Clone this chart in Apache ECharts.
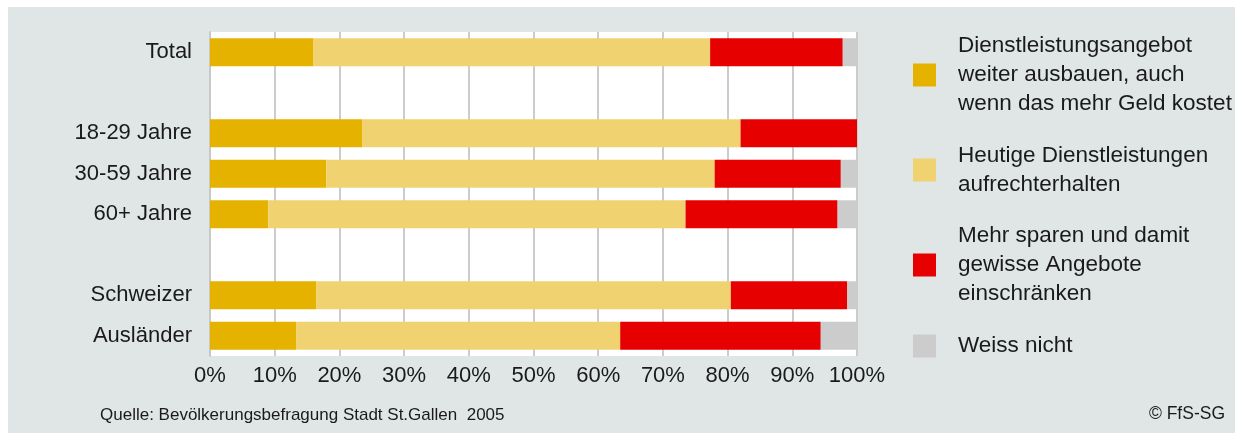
<!DOCTYPE html>
<html>
<head>
<meta charset="utf-8">
<script src="https://cdn.jsdelivr.net/npm/echarts@6/dist/echarts.min.js"></script>
<style>
html,body{margin:0;padding:0;background:#fff;}
#c{width:1235px;height:433px;}
</style>
</head>
<body>
<div id="c"></div>
<script>
const categories = ['Total', ' ', '18-29 Jahre', '30-59 Jahre', '60+ Jahre', '  ', 'Schweizer', 'Ausländer'];
const seriesNames = [
  'Dienstleistungsangebot\nweiter ausbauen, auch\nwenn das mehr Geld kostet',
  'Heutige Dienstleistungen\naufrechterhalten',
  'Mehr sparen und damit\ngewisse Angebote\neinschränken',
  'Weiss nicht'
];
const ausbauen     = [16,   null, 23.5, 18,   9,    null, 16.4, 13.3];
const erhalten     = [61.3, null, 58.5, 60,   64.5, null, 64.1, 50.1];
const sparen       = [20.5, null, 18,   19.5, 23.5, null, 18,   31];
const weissNicht   = [2.2,  null, 0,    2.5,  3,    null, 1.5,  5.6];
const xTicks = [0, 10, 20, 30, 40, 50, 60, 70, 80, 90, 100];
const colors = ['#e6b200', '#f0d370', '#e60000', '#cccccc'];
const values = [ausbauen, erhalten, sparen, weissNicht];

const chart = echarts.init(document.getElementById('c'));
const font = 'Liberation Sans, Arial, sans-serif';
const legendTops = [31.5, 141, 221.5, 331.5];
chart.setOption({
  backgroundColor: '#ffffff',
  animation: false,
  textStyle: {fontFamily: font},
  graphic: [
    {type: 'rect', left: 8, top: 7, z: -10, silent: true,
     shape: {width: 1227, height: 426}, style: {fill: '#dfe6e5'}},
    {type: 'text', left: 100, top: 407,
     style: {text: 'Quelle: Bevölkerungsbefragung Stadt St.Gallen  2005', fontSize: 17, fontFamily: font, fill: '#1a1a1a'}},
    {type: 'text', right: 10, top: 405,
     style: {text: '© FfS-SG', fontSize: 17.5, fontFamily: font, fill: '#1a1a1a'}}
  ],
  grid: {left: 210, right: 378, top: 32, bottom: 77, show: true, backgroundColor: '#ffffff', borderWidth: 0, containLabel: false},
  legend: seriesNames.map((n, i) => ({
    orient: 'vertical', left: 913, top: legendTops[i], padding: 0,
    itemWidth: 23, itemHeight: 23, icon: 'rect',
    data: [n],
    textStyle: {fontSize: 22.5, lineHeight: 29, color: '#1a1a1a', fontFamily: font, padding: [0, 0, 0, 17]},
    selectedMode: false
  })),
  xAxis: {
    type: 'value', min: 0, max: 100, interval: 10,
    axisLine: {show: false}, axisTick: {show: false},
    splitLine: {show: true, lineStyle: {color: '#cccccc', width: 2}},
    axisLabel: {formatter: v => xTicks.includes(v) ? v + '%' : '', fontSize: 22, color: '#1a1a1a', margin: 9, fontFamily: font}
  },
  yAxis: {
    type: 'category', data: categories, inverse: true,
    axisLine: {show: true, lineStyle: {color: '#c8c8c8', width: 2}},
    axisTick: {show: false},
    axisLabel: {fontSize: 22, color: '#1a1a1a', margin: 18, fontFamily: font, padding: [3, 0, 0, 0]}
  },
  series: seriesNames.map((n, i) => ({
    name: n, type: 'bar', stack: 'all', barWidth: 28,
    itemStyle: {color: colors[i]},
    data: values[i]
  }))
});
</script>
</body>
</html>
